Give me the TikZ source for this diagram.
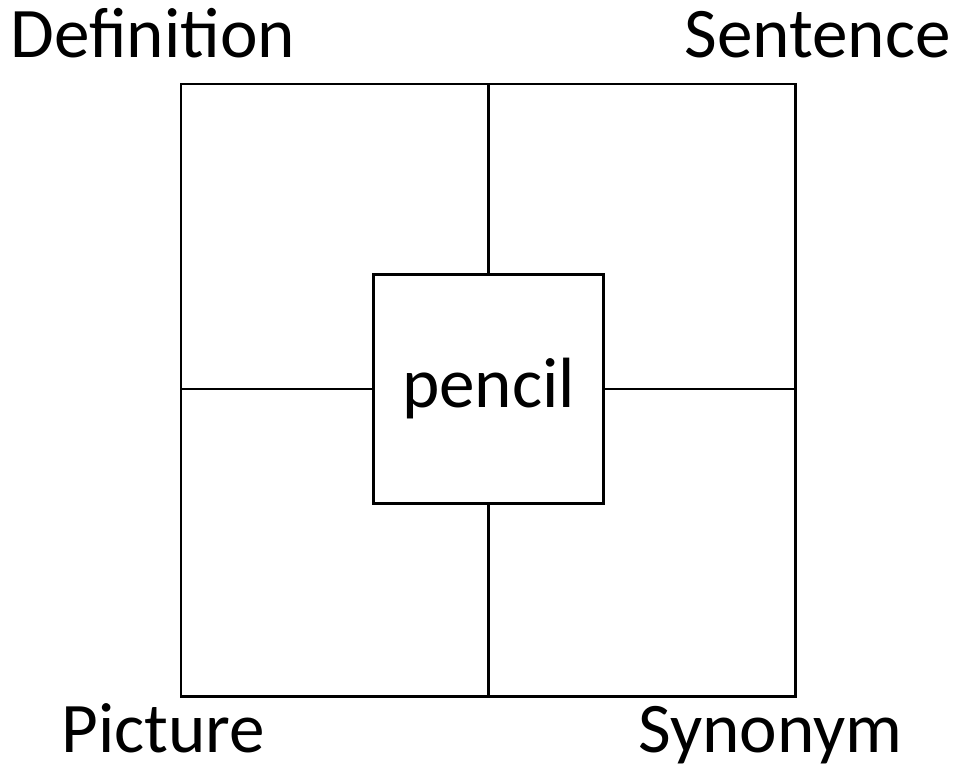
\documentclass[tikz,border=0pt]{standalone}
\usepackage{fontspec}
\setmainfont{Carlito}
\begin{document}
\begin{tikzpicture}[x=0.02cm, y=-0.02cm, line width=1.7pt, line join=miter,
  font=\fontsize{40.5}{48}\selectfont]
  \tikzset{corner/.style={inner sep=0pt}}
  \useasboundingbox (0,0) rectangle (959,770);
  \path
  (181,84) coordinate (TL)
  (795,696) coordinate (BR)
  ;
  \node[draw, minimum width=4.6cm, minimum height=4.6cm, inner sep=0pt] (word) at (488.5,389) {pencil};
  \draw (TL) rectangle (BR);
  \draw
  (word.north |- TL)--(word.north)
  (word.south)--(word.south |- BR)
  (word.west -| TL)--(word.west)
  (word.east)--(word.east -| BR)
  ;
  \node[corner, anchor=base west] (def) at (9,58) {Definition};
  \node[corner, anchor=base east] (sen) at (952,58) {Sentence};
  \node[corner, anchor=base west] (pic) at (60,752) {Picture};
  \node[corner, anchor=base west] (syn) at (637,752) {Synonym};
\end{tikzpicture}
\end{document}
